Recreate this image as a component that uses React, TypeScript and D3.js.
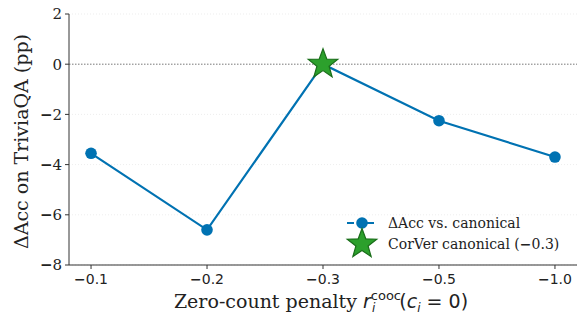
import React from "react";
import * as d3 from "d3";

const categories = ["\u22120.1", "\u22120.2", "\u22120.3", "\u22120.5", "\u22121.0"];
const deltaAcc = [-3.55, -6.6, 0, -2.25, -3.7];
const canonicalIndex = 2;
const canonicalValue = 0;
const yTicks = [2, 0, -2, -4, -6, -8];

const W = 581, H = 314;
const L = 69, R = 577, T = 14, B = 265;

function starPath(cx: number, cy: number, ro: number, ri: number) {
  const pts: [number, number][] = [];
  for (let i = 0; i < 10; i++) {
    const a = -Math.PI / 2 + (i * Math.PI) / 5;
    const r = i % 2 === 0 ? ro : ri;
    pts.push([cx + r * Math.cos(a), cy + r * Math.sin(a)]);
  }
  return d3.line()(pts) + "Z";
}

export default function App() {
  const x = d3.scaleLinear().domain([-0.19, categories.length - 1 + 0.19]).range([L, R]);
  const y = d3.scaleLinear().domain([-8, 2]).range([B, T]);
  const line = d3.line<number>().x((_, i) => x(i)).y((d) => y(d));
  const blue = "#0072B2";
  const minus = (
    <tspan fontFamily="DejaVu Sans" fontWeight="bold">{"\u2212"}</tspan>
  );
  return (
    <svg width={W} height={H} style={{ position: "absolute", left: 0, top: 0 }}>
      <rect width={W} height={H} fill="white" />
      {yTicks.map((t) => (
        <line key={"g" + t} x1={L} x2={R} y1={y(t)} y2={y(t)}
          stroke={t === 0 ? "#555" : "#e0e0e0"} strokeWidth={t === 0 ? 0.8 : 0.6}
          strokeDasharray={t === 0 ? "1.5,1.5" : "1,2"} />
      ))}
      <path d={line(deltaAcc) || ""} fill="none" stroke={blue} strokeWidth={2.2} />
      {deltaAcc.map((v, i) => (
        <circle key={i} cx={x(i)} cy={y(v)} r={5.8} fill={blue} />
      ))}
      <path d={starPath(x(canonicalIndex), y(canonicalValue), 15.5, 6.4)} fill="#2ca02c" stroke="#1a6e1a" strokeWidth={1.2} />
      <line x1={L} x2={L} y1={T} y2={B} stroke="#333" strokeWidth={1} />
      <line x1={L} x2={R} y1={B} y2={B} stroke="#333" strokeWidth={1} />
      {yTicks.map((t) => (
        <g key={"t" + t}>
          <line x1={L - 4} x2={L} y1={y(t)} y2={y(t)} stroke="#333" />
          <text x={L - 7} y={y(t)} dy="0.36em" textAnchor="end" fontFamily="DejaVu Serif" fontSize={15} fill="#222">
            {t < 0 ? <>{minus}{Math.abs(t)}</> : t}
          </text>
        </g>
      ))}
      {categories.map((c, i) => (
        <g key={"x" + i}>
          <line x1={x(i)} x2={x(i)} y1={B} y2={B + 4} stroke="#333" />
          <text x={x(i)} y={B + 19} textAnchor="middle" fontFamily="DejaVu Sans" fontSize={14} fill="#222">
            {minus}{c.slice(1)}
          </text>
        </g>
      ))}
      <text transform={`translate(28,${(T + B) / 2 + 2}) rotate(-90)`} textAnchor="middle" fontFamily="DejaVu Serif" fontSize={19} fill="#222">
        ΔAcc on TriviaQA (pp)
      </text>
      <text x={(L + R) / 2 - 2} y={308} textAnchor="middle" fontFamily="DejaVu Serif" fontSize={19} fill="#222">
        Zero-count penalty <tspan fontFamily="DejaVu Sans" fontStyle="italic">r</tspan>
        <tspan fontFamily="DejaVu Sans" fontSize={13} dy={-8}>cooc</tspan>
        <tspan fontFamily="DejaVu Sans" fontStyle="italic" fontSize={12} dx={-29} dy={12}>i</tspan>
        <tspan fontFamily="DejaVu Sans" dx={24} dy={-4}>(</tspan>
        <tspan fontFamily="DejaVu Sans" fontStyle="italic">c</tspan>
        <tspan fontFamily="DejaVu Sans" fontStyle="italic" fontSize={12} dy={4}>i</tspan>
        <tspan fontFamily="DejaVu Sans" dy={-4}> = 0)</tspan>
      </text>
      <g fontFamily="DejaVu Serif" fontSize={14} fill="#222">
        <line x1={347} x2={377} y1={223} y2={223} stroke={blue} strokeWidth={2.2} strokeDasharray="7,3" />
        <circle cx={362} cy={223} r={5.8} fill={blue} />
        <text x={388} y={223} dy="0.35em">ΔAcc vs. canonical</text>
        <path d={starPath(362, 244, 15.5, 6.4)} fill="#2ca02c" stroke="#1a6e1a" strokeWidth={1.2} />
        <text x={388} y={244} dy="0.35em">CorVer canonical ({minus}0.3)</text>
      </g>
    </svg>
  );
}
